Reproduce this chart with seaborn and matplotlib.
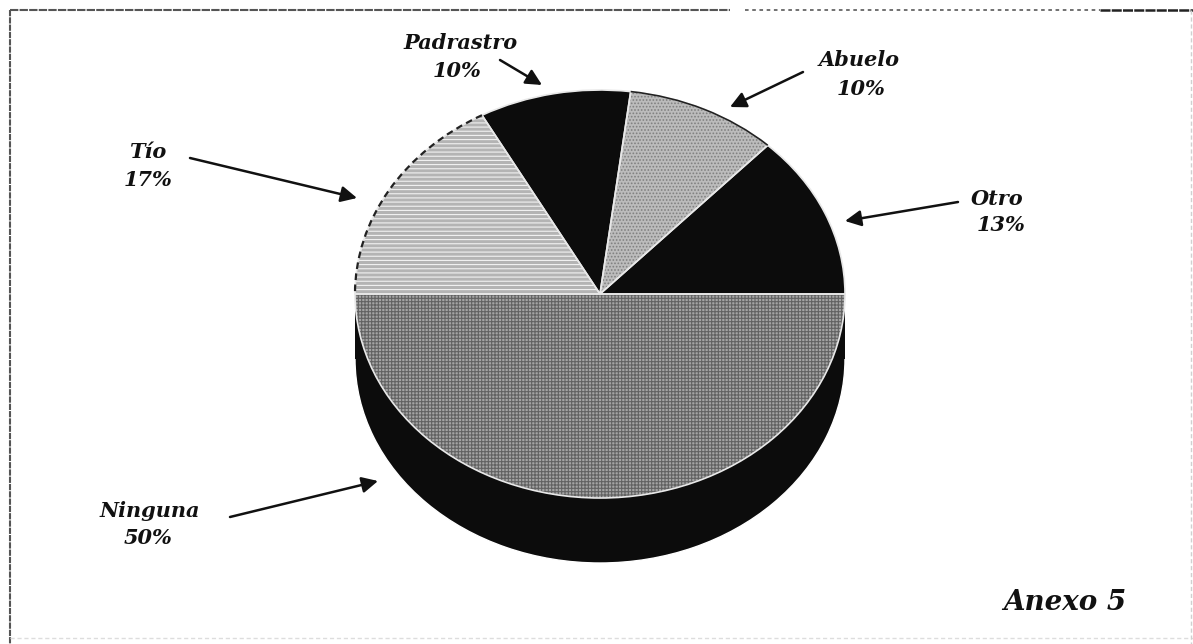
import matplotlib
matplotlib.use('Agg')
from matplotlib import pyplot as plt
from matplotlib.patches import Rectangle, Arc
import numpy as np
import seaborn as sns

# values, counter-clockwise from the right hand side
categories = ['Otro', 'Abuelo', 'Padrastro', 'Tío', 'Ninguna']
values = [13, 10, 10, 17, 50]
tick_labels = [f'{v}%' for v in values]

sns.set_theme(style='white')
plt.rcParams['font.family'] = ['DejaVu Serif']
plt.rcParams['hatch.linewidth'] = 0.8

W, H = 1193, 644
CX, CY, RX, RY, DEPTH = 600, 294, 245, 204, 65
BLACK = '#0c0c0c'

fig = plt.figure(figsize=(W / 100, H / 100), dpi=100, facecolor='white')
ax = fig.add_axes([0, 0, 1, 1])

# pixel overlay for the labels and the frame
px = fig.add_axes([0, 0, 1, 1], zorder=5)
px.set_xlim(0, W)
px.set_ylim(H, 0)
px.axis('off')
px.patch.set_alpha(0)

depth = DEPTH / RY
# side wall of the 3d pie
ax.pie([100], colors=[BLACK], center=(0, -depth), radius=1, startangle=0)
wall = Rectangle((-1, -depth), 2, depth, fc=BLACK, ec='none')
wall.set_snap(False)
ax.add_patch(wall)

# top face
faces = [BLACK, '#bcbcbc', BLACK, '#b4b4b4', '#a4a4a4']
hatch_cols = [BLACK, '#808080', BLACK, '#f2f2f2', '#626262']
hatches = ['', '.....', '', '----', '+++++']
wedges, _ = ax.pie(values, colors=faces, startangle=0, radius=1)
for w, h, c in zip(wedges, hatches, hatch_cols):
    w.set_hatch(h)
    w.set_edgecolor(c)
    w.set_linewidth(0)
# light seams between the slices
outline, _ = ax.pie(values, startangle=0, radius=1,
                    wedgeprops={'fill': False, 'edgecolor': '#e8e8e8', 'linewidth': 1.2})

# dark rims on the two patterned top slices
edges = np.cumsum([0] + values) * 3.6
ax.add_patch(Arc((0, 0), 2, 2, theta1=edges[1], theta2=edges[2], color='#222222', lw=1.2))
ax.add_patch(Arc((0, 0), 2, 2, theta1=edges[3], theta2=edges[4], color='#222222', lw=1.6,
                 ls=(0, (3, 2))))

ax.set_aspect('auto')
ax.set_xlim(-CX / RX, (W - CX) / RX)
ax.set_ylim(-(H - CY) / RY, CY / RY)
ax.axis('off')

# labels: name position, value position, arrow start, arrow tip
label_pos = {
    'Otro': ((997, 199), (1001, 225), (958, 202), (845, 221)),
    'Abuelo': ((859, 60), (861, 89), (803, 72), (730, 107)),
    'Padrastro': ((461, 43), (457, 71), (500, 60), (542, 85)),
    'Tío': ((148, 152), (148, 180), (190, 158), (357, 198)),
    'Ninguna': ((150, 511), (148, 538), (230, 517), (378, 481)),
}
font = dict(fontsize=15, fontweight='bold', fontstyle='italic', color='#111111',
            ha='center', va='center')
for name, val in zip(categories, tick_labels):
    name_xy, val_xy, start, tip = label_pos[name]
    px.text(*name_xy, name, **font)
    px.text(*val_xy, val, **font)
    px.annotate('', xy=tip, xytext=start,
                arrowprops=dict(arrowstyle='-|>,head_width=0.4,head_length=0.8',
                                color='#111111', lw=1.8, shrinkA=0, shrinkB=0))

px.text(1065, 602, 'Anexo 5', fontsize=20, fontweight='bold', fontstyle='italic',
        color='#111111', ha='center', va='center')

# scanned frame
px.plot([10, 10], [10, 644], color='#555555', lw=1.5, ls=(0, (3, 0.5)))
px.plot([10, 730], [10, 10], color='#555555', lw=1.5, ls=(0, (4, 0.6)))
px.plot([745, 1100], [10, 10], color='#666666', lw=1.3, ls=(0, (2, 2)))
px.plot([1100, 1193], [10, 10], color='#222222', lw=1.8, ls=(0, (4, 0.5)))
px.plot([10, 1193], [638, 638], color='#dddddd', lw=1.0, ls=(0, (3, 2)))
px.plot([1191, 1191], [10, 644], color='#d0d0d0', lw=1.0, ls=(0, (3, 2)))

fig.savefig('out.png', dpi=100)
